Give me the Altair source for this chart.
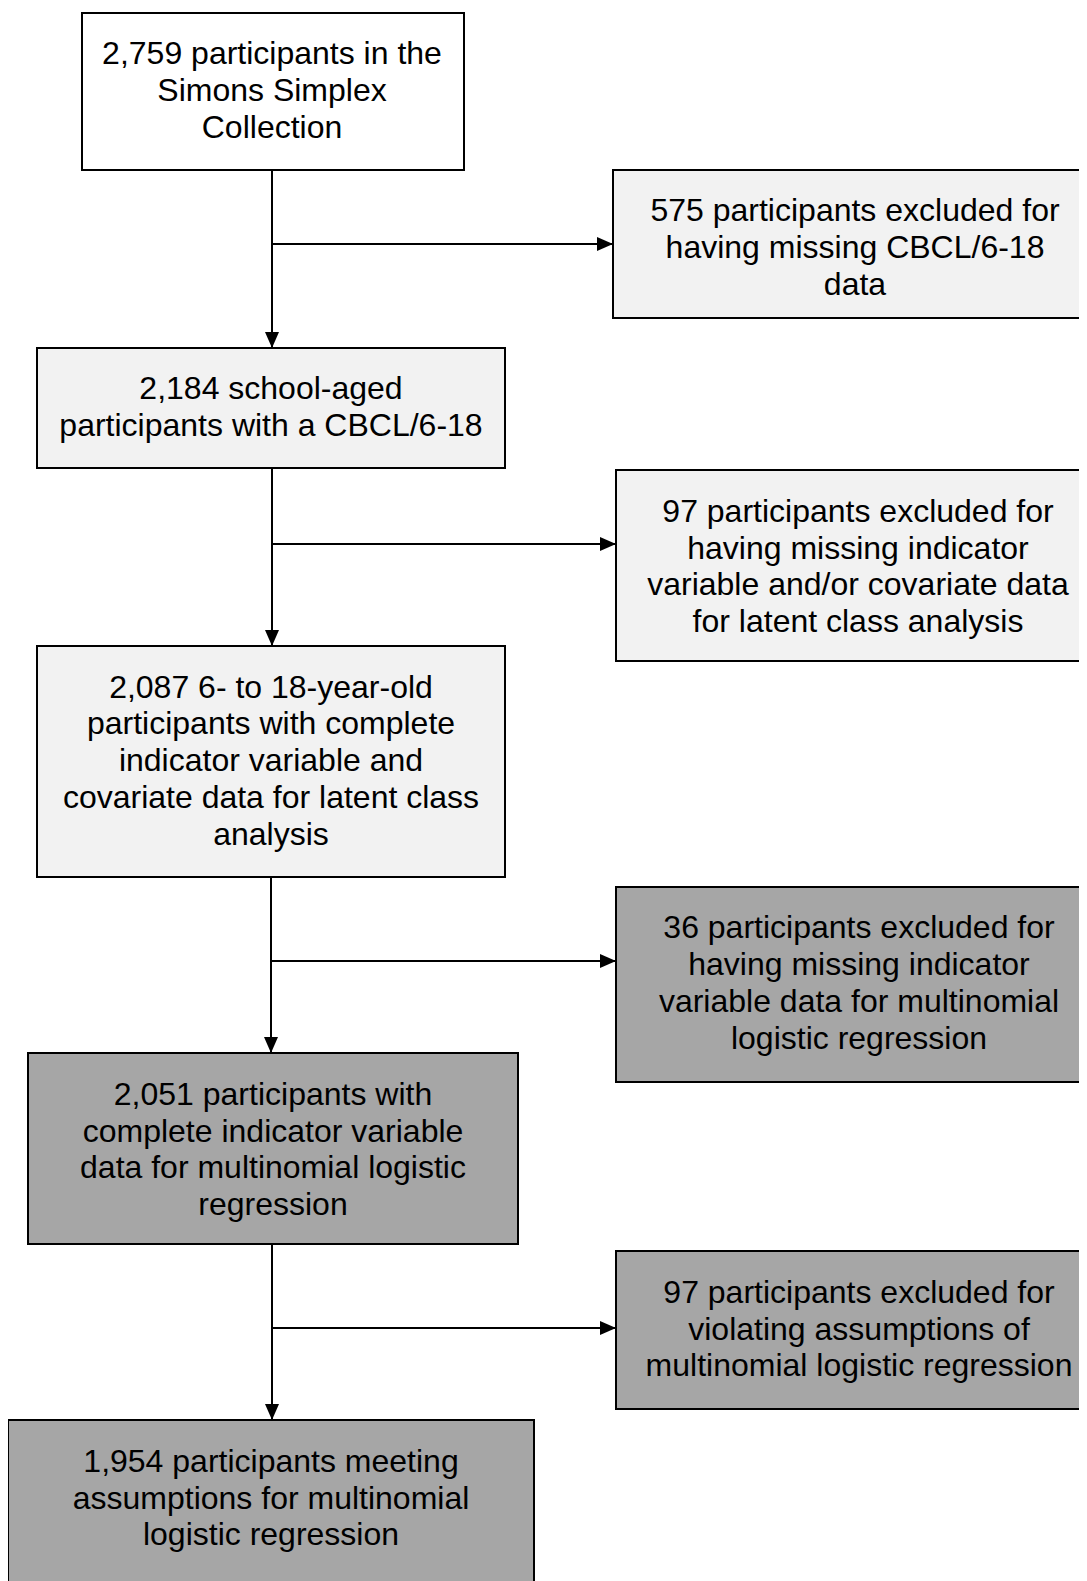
import altair as alt
import pandas as pd

# ---- layout (reference pixel space) ----
box_ids = [1, 2, 3, 4, 5, 6, 7, 8, 9]
box_x1 = [82, 613, 37, 616, 37, 616, 28, 616, 8]
box_x2 = [464, 1100, 505, 1100, 505, 1100, 518, 1100, 534]
box_y1 = [13, 170, 348, 470, 646, 887, 1053, 1251, 1420]
box_y2 = [170, 318, 468, 661, 877, 1082, 1244, 1409, 1600]
box_fill = ["#ffffff", "#f2f2f2", "#f2f2f2", "#f2f2f2", "#f2f2f2",
            "#a6a6a6", "#a6a6a6", "#a6a6a6", "#a6a6a6"]
text_cx = [272, 855, 271, 858, 271, 859, 273, 859, 271]
text_cy = [90.9, 247.9, 407.8, 566.9, 761.2, 983.3, 1150, 1329.5, 1498.5]
box_lines = [
    ["2,759 participants in the", "Simons Simplex", "Collection"],
    ["575 participants excluded for", "having missing CBCL/6-18", "data"],
    ["2,184 school-aged", "participants with a CBCL/6-18"],
    ["97 participants excluded for", "having missing indicator",
     "variable and/or covariate data", "for latent class analysis"],
    ["2,087 6- to 18-year-old", "participants with complete",
     "indicator variable and", "covariate data for latent class", "analysis"],
    ["36 participants excluded for", "having missing indicator",
     "variable data for multinomial", "logistic regression"],
    ["2,051 participants with", "complete indicator variable",
     "data for multinomial logistic", "regression"],
    ["97 participants excluded for", "violating assumptions of",
     "multinomial logistic regression"],
    ["1,954 participants meeting", "assumptions for multinomial",
     "logistic regression"],
]
LINE_H = 36.8

# connectors: vertical trunk segments and horizontal branches
trunk_x = [272, 272, 271, 272]
trunk_y1 = [170, 468, 877, 1244]
trunk_y2 = [348, 646, 1053, 1420]
branch_y = [244, 544, 961, 1328]
branch_x2 = [613, 616, 616, 616]

W, H = 1071, 1573
X0, Y0 = 8, 8

boxes = pd.DataFrame({"id": box_ids, "x1": box_x1, "x2": box_x2,
                      "y1": box_y1, "y2": box_y2, "fill": box_fill})

rows = []
for i, lines in enumerate(box_lines):
    n = len(lines)
    for j, t in enumerate(lines):
        rows.append({"t": t, "x": text_cx[i],
                     "y": text_cy[i] + (j - (n - 1) / 2) * LINE_H})
texts = pd.DataFrame(rows)

segs = []
for k in range(4):
    segs.append({"x1": trunk_x[k], "x2": trunk_x[k], "y1": trunk_y1[k], "y2": trunk_y2[k]})
    segs.append({"x1": trunk_x[k], "x2": branch_x2[k], "y1": branch_y[k], "y2": branch_y[k]})
segs = pd.DataFrame(segs)

down_heads = pd.DataFrame({"x": trunk_x, "y": trunk_y2})
right_heads = pd.DataFrame({"x": branch_x2, "y": branch_y})

xs = alt.Scale(domain=[X0, X0 + W], nice=False, zero=False)
ys = alt.Scale(domain=[Y0, Y0 + H], nice=False, zero=False, reverse=True)

rect = alt.Chart(boxes).mark_rect(stroke="black", strokeWidth=2, clip=True).encode(
    x=alt.X("x1:Q", scale=xs, axis=None),
    x2="x2:Q",
    y=alt.Y("y1:Q", scale=ys, axis=None),
    y2="y2:Q",
    fill=alt.Fill("fill:N", scale=None),
)

rules = alt.Chart(segs).mark_rule(color="black", strokeWidth=2).encode(
    x=alt.X("x1:Q", scale=xs, axis=None),
    x2="x2:Q",
    y=alt.Y("y1:Q", scale=ys, axis=None),
    y2="y2:Q",
)

down = alt.Chart(down_heads).mark_point(
    shape="M0,0 L-0.875,-2 L0.875,-2 Z", filled=True, color="black",
    opacity=1, size=256, strokeWidth=0,
).encode(x=alt.X("x:Q", scale=xs, axis=None), y=alt.Y("y:Q", scale=ys, axis=None))

right = alt.Chart(right_heads).mark_point(
    shape="M0,0 L-2,-0.875 L-2,0.875 Z", filled=True, color="black",
    opacity=1, size=256, strokeWidth=0,
).encode(x=alt.X("x:Q", scale=xs, axis=None), y=alt.Y("y:Q", scale=ys, axis=None))

text = alt.Chart(texts).mark_text(
    font="Liberation Sans", fontSize=32, color="black",
    align="center", baseline="middle",
).encode(
    x=alt.X("x:Q", scale=xs, axis=None),
    y=alt.Y("y:Q", scale=ys, axis=None),
    text="t:N",
)

chart = alt.layer(rect, rules, down, right, text).properties(
    width=W, height=H, padding=0, autosize=alt.AutoSizeParams(type="none"),
).configure_view(stroke=None)

chart.save("out.html", embed_options={"renderer": "svg", "actions": False})
